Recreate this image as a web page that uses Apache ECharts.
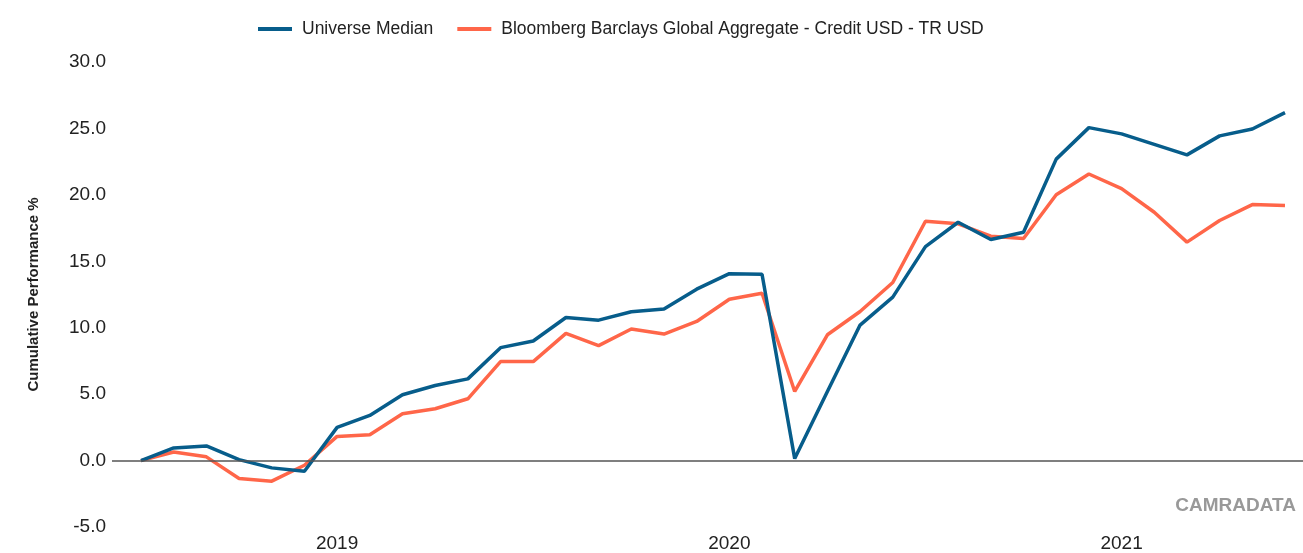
<!DOCTYPE html>
<html>
<head>
<meta charset="utf-8">
<script src="https://cdn.jsdelivr.net/npm/echarts@6/dist/echarts.min.js"></script>
<style>
  html, body { margin: 0; padding: 0; background: #fff; }
  #chart { width: 1303px; height: 553px; }
</style>
</head>
<body>
<div id="chart"></div>
<script>
// monthly points, Jul 2018 .. Jun 2021
var months = [
  '2018-07', '2018-08', '2018-09', '2018-10', '2018-11', '2018-12',
  '2019-01', '2019-02', '2019-03', '2019-04', '2019-05', '2019-06',
  '2019-07', '2019-08', '2019-09', '2019-10', '2019-11', '2019-12',
  '2020-01', '2020-02', '2020-03', '2020-04', '2020-05', '2020-06',
  '2020-07', '2020-08', '2020-09', '2020-10', '2020-11', '2020-12',
  '2021-01', '2021-02', '2021-03', '2021-04', '2021-05', '2021-06'
];

var universeMedian = [
  0, 0.95, 1.1, 0.07, -0.55, -0.8,
  2.5, 3.4, 4.95, 5.65, 6.15, 8.5,
  9.0, 10.77, 10.57, 11.2, 11.4, 12.9,
  14.07, 14.02, 0.15, 5.2, 10.2, 12.3,
  16.1, 17.94, 16.64, 17.19, 22.69, 25.06,
  24.59, 23.8, 23.01, 24.44, 24.96, 26.19
];

var benchmark = [
  0, 0.65, 0.28, -1.35, -1.55, -0.35,
  1.82, 1.95, 3.52, 3.9, 4.65, 7.45,
  7.45, 9.57, 8.65, 9.9, 9.52, 10.47,
  12.14, 12.59, 5.2, 9.47, 11.22, 13.4,
  18.01, 17.82, 16.89, 16.72, 20.01, 21.57,
  20.47, 18.69, 16.44, 18.07, 19.27, 19.19
];

var yTicks = { min: -5, max: 30, step: 5 };

var FONT = '"Liberation Sans", Arial, sans-serif';

var chart = echarts.init(document.getElementById('chart'));

chart.setOption({
  animation: false,
  textStyle: { fontFamily: FONT },
  grid: { left: 141, right: 18, top: 62, bottom: 23, containLabel: false },
  legend: {
    left: 253,
    top: 15,
    itemWidth: 34,
    itemHeight: 4,
    itemGap: 24,
    icon: 'rect',
    textStyle: { fontFamily: FONT, fontSize: 17.5, color: '#222', padding: [0, 0, 0, 5] },
    data: ['Universe Median', 'Bloomberg Barclays Global Aggregate - Credit USD - TR USD']
  },
  graphic: [{
    type: 'text',
    right: 7,
    top: 496,
    style: {
      text: 'CAMRADATA',
      fontFamily: FONT,
      fontWeight: 'bold',
      fontSize: 19,
      fill: '#999'
    }
  }],
  xAxis: {
    type: 'category',
    data: months,
    boundaryGap: false,
    axisLine: { show: false },
    axisTick: { show: false },
    splitLine: { show: false },
    axisLabel: {
      interval: function (i, v) { return v.slice(5) === '01'; },
      formatter: function (v) { return v.slice(0, 4); },
      fontFamily: FONT,
      fontSize: 19,
      color: '#222',
      margin: 7
    }
  },
  yAxis: {
    type: 'value',
    min: yTicks.min,
    max: yTicks.max,
    interval: yTicks.step,
    name: 'Cumulative Performance %',
    nameLocation: 'middle',
    nameGap: 100,
    nameTextStyle: { fontFamily: FONT, fontSize: 15, fontWeight: 'bold', color: '#222' },
    axisLine: { show: false },
    axisTick: { show: false },
    splitLine: { show: false },
    axisLabel: {
      formatter: function (v) { return v.toFixed(1); },
      fontFamily: FONT,
      fontSize: 19,
      color: '#222',
      margin: 35,
      padding: [4, 0, 0, 0]
    }
  },
  series: [
    {
      name: 'Universe Median',
      type: 'line',
      data: universeMedian,
      symbol: 'none',
      lineStyle: { width: 3.5, color: '#075d8b' },
      itemStyle: { color: '#075d8b' },
      z: 3,
      markLine: {
        silent: true,
        symbol: 'none',
        label: { show: false },
        lineStyle: { color: '#555', width: 1.5, type: 'solid' },
        data: [[{ x: 112, yAxis: 0 }, { x: 1303, yAxis: 0 }]]
      }
    },
    {
      name: 'Bloomberg Barclays Global Aggregate - Credit USD - TR USD',
      type: 'line',
      data: benchmark,
      symbol: 'none',
      lineStyle: { width: 3.5, color: '#ff6649' },
      itemStyle: { color: '#ff6649' },
      z: 2
    }
  ]
});
</script>
</body>
</html>
